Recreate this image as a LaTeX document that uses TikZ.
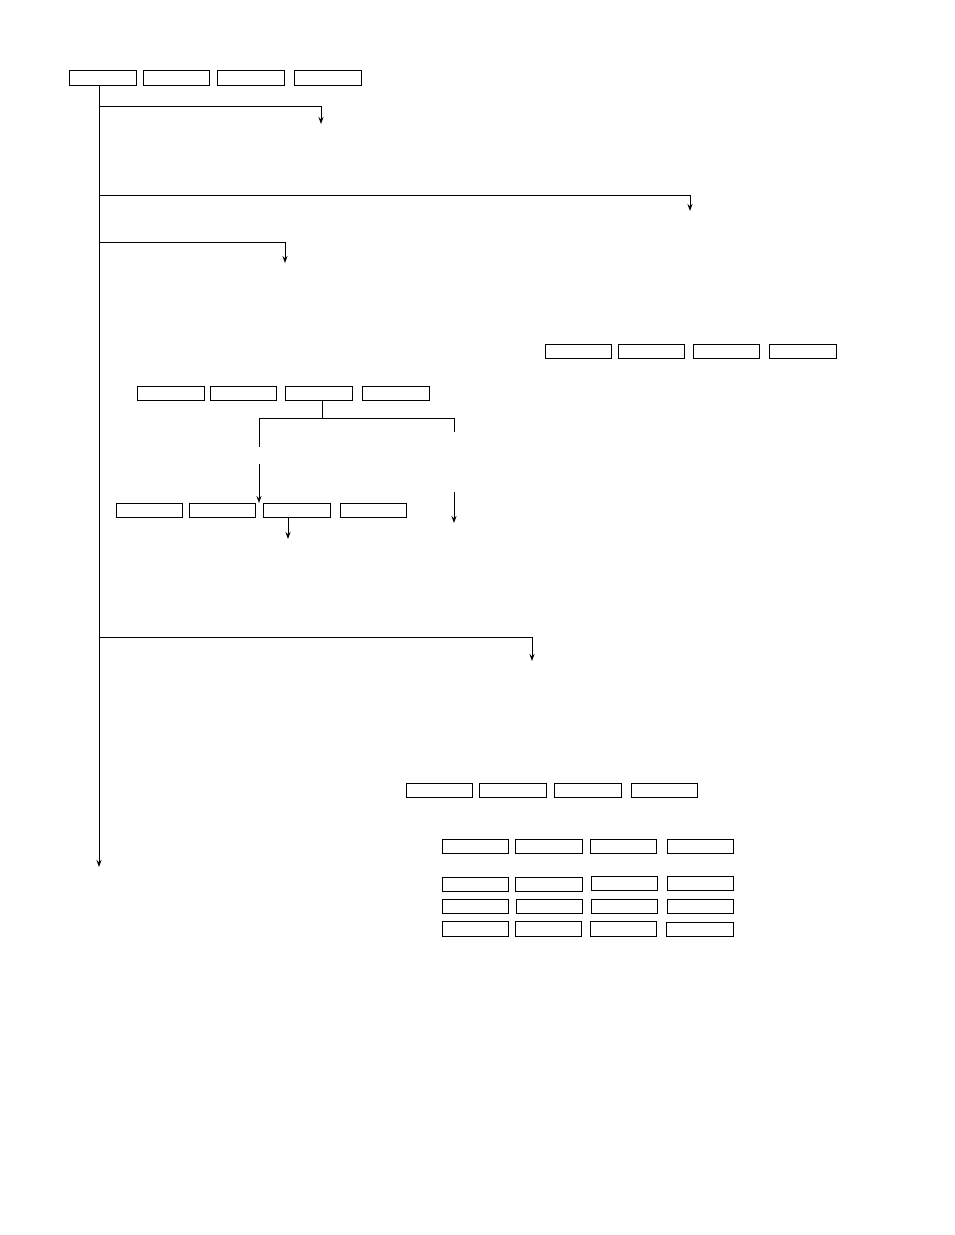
\documentclass[tikz,border=0pt]{standalone}
\usetikzlibrary{arrows.meta}
\begin{document}
\begin{tikzpicture}[x=1pt,y=-1pt,
  box/.style={draw,line width=1pt,minimum width=66.5pt,minimum height=14.5pt,inner sep=0pt,anchor=center},
  conn/.style={line width=1pt},
  arr/.style={line width=1pt,-{Stealth[length=7pt,width=5pt]}}]
\useasboundingbox (0,0) rectangle (954,1235);
% top row
\node[box] (t1) at (103,78) {};
\node[box] (t2) at (176.5,78) {};
\node[box] (t3) at (251,78) {};
\node[box] (t4) at (328,78) {};
% row A
\node[box] (a1) at (578.5,351.5) {};
\node[box] (a2) at (651.5,351.5) {};
\node[box] (a3) at (726.5,351.5) {};
\node[box] (a4) at (803,351.5) {};
% row B
\node[box] (b1) at (171,393.5) {};
\node[box] (b2) at (243.5,393.5) {};
\node[box] (b3) at (319,393.5) {};
\node[box] (b4) at (396,393.5) {};
% row C
\node[box] (c1) at (149.5,510.5) {};
\node[box] (c2) at (222.5,510.5) {};
\node[box] (c3) at (297,510.5) {};
\node[box] (c4) at (373.5,510.5) {};
% row D
\node[box] (d1) at (439.5,790.5) {};
\node[box] (d2) at (513,790.5) {};
\node[box] (d3) at (588,790.5) {};
\node[box] (d4) at (664.5,790.5) {};
% row E
\node[box] (e1) at (475.5,846.5) {};
\node[box] (e2) at (549,846.5) {};
\node[box] (e3) at (623.5,846.5) {};
\node[box] (e4) at (700.5,846.5) {};
% row F
\node[box] (f1) at (475.5,884.5) {};
\node[box] (f2) at (549,884.5) {};
\node[box] (f3) at (624.5,883.5) {};
\node[box] (f4) at (700.5,883.5) {};
% row G
\node[box] (g1) at (475.5,906.5) {};
\node[box] (g2) at (549.5,906.5) {};
\node[box] (g3) at (624.5,906.5) {};
\node[box] (g4) at (700.5,906.5) {};
% row H
\node[box] (h1) at (475.5,929) {};
\node[box] (h2) at (548.5,929) {};
\node[box] (h3) at (623.5,929) {};
\node[box] (h4) at (700,929.5) {};
% trunk
\coordinate (trTop) at (99,85);
\coordinate (trEnd) at (99,867);
\draw[arr] (trTop) -- (trEnd);
\coordinate (br1) at (99,106);   \coordinate (br1e) at (321,124);
\coordinate (br2) at (99,195);   \coordinate (br2e) at (690,211);
\coordinate (br3) at (99,242);   \coordinate (br3e) at (285,263);
\coordinate (br4) at (99,637);   \coordinate (br4e) at (532,661);
\draw[arr] (br1) -| (br1e);
\draw[arr] (br2) -| (br2e);
\draw[arr] (br3) -| (br3e);
\draw[arr] (br4) -| (br4e);
% split under b3
\coordinate (sp0) at (322,401);
\coordinate (sp1) at (322,418);
\coordinate (spLt) at (259,418);
\coordinate (spRt) at (454,418);
\coordinate (spL) at (259,447);
\coordinate (spR) at (454,432);
\draw[conn] (sp0) -- (sp1);
\draw[conn] (spL) -- (spLt) -- (spRt) -- (spR);
\coordinate (aL0) at (259,464);
\coordinate (aL1) at (259,503);
\draw[arr] (aL0) -- (aL1);
\coordinate (aR0) at (454,492);
\coordinate (aR1) at (454,523);
\draw[arr] (aR0) -- (aR1);
\coordinate (c3a) at (288,518);
\coordinate (c3b) at (288,539);
\draw[arr] (c3a) -- (c3b);
\end{tikzpicture}
\end{document}
